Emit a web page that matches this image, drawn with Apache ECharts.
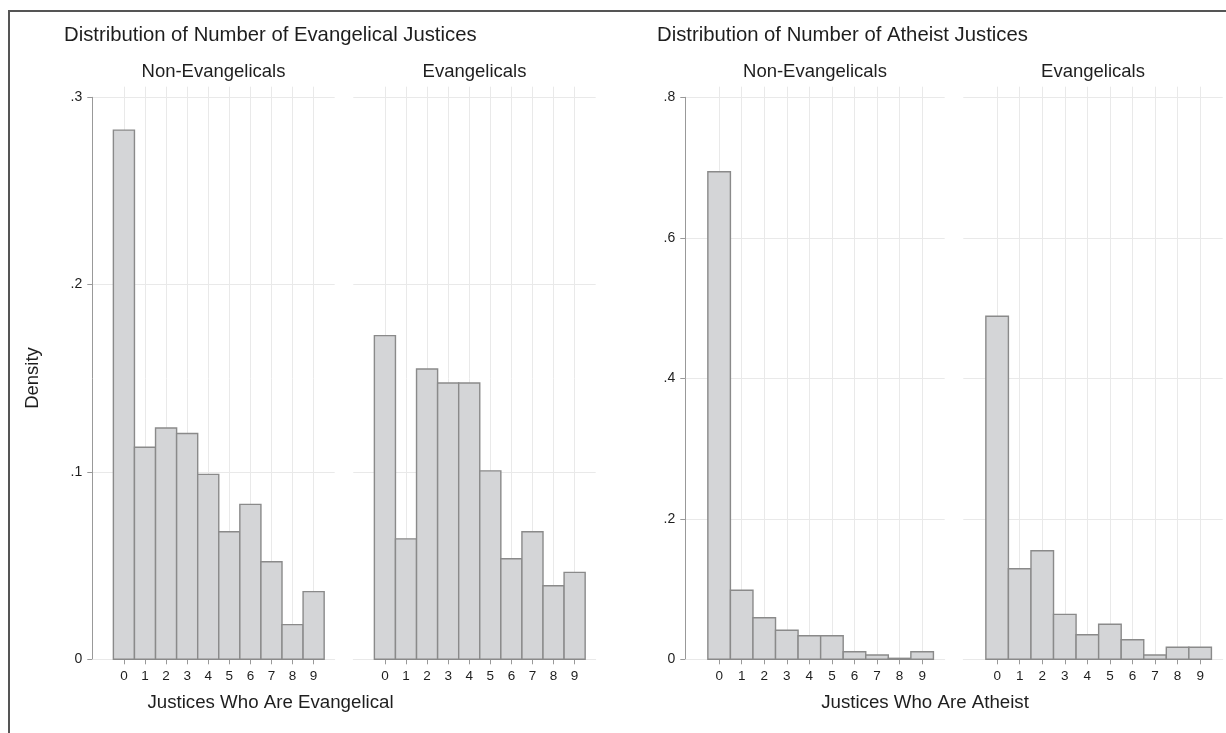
<!DOCTYPE html>
<html>
<head>
<meta charset="utf-8">
<script src="https://cdn.jsdelivr.net/npm/echarts@6/dist/echarts.min.js"></script>
<style>
html,body{margin:0;padding:0;background:#fff;}
#chart{width:1226px;height:733px;}
</style>
</head>
<body>
<div id="chart"></div>
<script>
// ---- data ----
const bins = [0, 1, 2, 3, 4, 5, 6, 7, 8, 9];
const xTickLabels = ['0', '1', '2', '3', '4', '5', '6', '7', '8', '9'];
const evangelicalJustices_NonEvangelicals = [0.2825, 0.1132, 0.1235, 0.1205, 0.0987, 0.0681, 0.0827, 0.0521, 0.0185, 0.0361];
const evangelicalJustices_Evangelicals = [0.1728, 0.0643, 0.1550, 0.1475, 0.1475, 0.1006, 0.0537, 0.0681, 0.0393, 0.0464];
const atheistJustices_NonEvangelicals = [0.6940, 0.0982, 0.0592, 0.0413, 0.0336, 0.0336, 0.0108, 0.0061, 0.0014, 0.0108];
const atheistJustices_Evangelicals = [0.4883, 0.1290, 0.1546, 0.0640, 0.0350, 0.0498, 0.0279, 0.0061, 0.0171, 0.0171];
const yTicksEvangelical = [0, 0.1, 0.2, 0.3];
const yTickLabelsEvangelical = ['0', '.1', '.2', '.3'];
const yTicksAtheist = [0, 0.2, 0.4, 0.6, 0.8];
const yTickLabelsAtheist = ['0', '.2', '.4', '.6', '.8'];
const panelTitles = ['Non-Evangelicals', 'Evangelicals', 'Non-Evangelicals', 'Evangelicals'];
const graphTitles = ['Distribution of Number of Evangelical Justices', 'Distribution of Number of Atheist Justices'];
const xAxisTitles = ['Justices Who Are Evangelical', 'Justices Who Are Atheist'];
const yAxisTitle = 'Density';

// ---- layout ----
const FONT = '"Liberation Sans", Arial, Helvetica, sans-serif';
const TXT = '#1e1e1e';
const GRIDC = '#e9e9e9';
const AXC = '#999999';
const BOTTOM = 659.3, TOPV = 97.3, CAPTOP = 86.7;
const panels = [
  {left: 92.3, width: 242.4, data: evangelicalJustices_NonEvangelicals, ticks: yTicksEvangelical, labels: yTickLabelsEvangelical, showY: true},
  {left: 353.3, width: 242.4, data: evangelicalJustices_Evangelicals, ticks: yTicksEvangelical, labels: yTickLabelsEvangelical, showY: false},
  {left: 685.3, width: 259.4, data: atheistJustices_NonEvangelicals, ticks: yTicksAtheist, labels: yTickLabelsAtheist, showY: true},
  {left: 963.3, width: 259.4, data: atheistJustices_Evangelicals, ticks: yTicksAtheist, labels: yTickLabelsAtheist, showY: false}
];
const XMIN = -1.5, XMAX = 10;

const grid = [], xAxis = [], yAxis = [], series = [];
panels.forEach((p, i) => {
  grid.push({left: p.left, top: TOPV, width: p.width, height: BOTTOM - TOPV, containLabel: false});
  const ymax = p.ticks[p.ticks.length - 1];
  const step = p.ticks[1] - p.ticks[0];
  xAxis.push({
    type: 'value', gridIndex: i, min: XMIN, max: XMAX,
    axisLine: {show: true, onZero: false, lineStyle: {color: GRIDC, width: 1}},
    axisTick: {show: true, customValues: bins, length: 5, lineStyle: {color: AXC, width: 1}},
    axisLabel: {show: true, customValues: bins, margin: 10, color: TXT, fontSize: 13.5, fontFamily: FONT,
      formatter: v => xTickLabels[bins.indexOf(Math.round(v))]},
    splitLine: {show: true, lineStyle: {color: GRIDC, width: 1}}
  });
  yAxis.push({
    type: 'value', gridIndex: i, min: 0, max: ymax, interval: step,
    axisLine: {show: p.showY, onZero: false, lineStyle: {color: AXC, width: 1}},
    axisTick: {show: p.showY, length: 5, lineStyle: {color: AXC, width: 1}},
    axisLabel: {show: p.showY, margin: 10, color: TXT, fontSize: 14, fontFamily: FONT,
      formatter: v => { let k = -1; p.ticks.forEach((t, j) => { if (Math.abs(t - v) < 1e-9) k = j; }); return k >= 0 ? p.labels[k] : ''; }},
    splitLine: {show: true, lineStyle: {color: GRIDC, width: 1}}
  });
  series.push({
    type: 'custom', xAxisIndex: i, yAxisIndex: i,
    data: bins.map((b, j) => [b, p.data[j]]),
    encode: {x: 0, y: 1},
    renderItem: (params, api) => {
      const x = api.value(0), y = api.value(1);
      const a = api.coord([x - 0.5, y]);
      const b = api.coord([x + 0.5, 0]);
      return {type: 'rect',
        shape: {x: a[0], y: a[1], width: b[0] - a[0], height: b[1] - a[1]},
        style: {fill: '#d4d5d7', stroke: '#8a8a8a', lineWidth: 1.4}};
    },
    silent: true, animation: false
  });
});
// cap grids: plot region above the top tick where vertical grid lines continue
panels.forEach((p, i) => {
  const gi = panels.length + i;
  grid.push({left: p.left, top: CAPTOP, width: p.width, height: TOPV - CAPTOP});
  xAxis.push({type: 'value', gridIndex: gi, min: XMIN, max: XMAX,
    axisLine: {show: false}, axisTick: {show: false, customValues: bins}, axisLabel: {show: false, customValues: bins},
    splitLine: {show: true, lineStyle: {color: GRIDC, width: 1}}});
  yAxis.push({type: 'value', gridIndex: gi, min: 0, max: 1, show: false});
});

const graphic = [];
graphic.push({type: 'line', shape: {x1: 9, y1: 11, x2: 9, y2: 733}, style: {stroke: '#555', lineWidth: 2}});
graphic.push({type: 'line', shape: {x1: 8, y1: 11, x2: 1226, y2: 11}, style: {stroke: '#555', lineWidth: 2}});
const txt = (text, x, y, size, align, rot) => ({
  type: 'text', x: x, y: y, rotation: rot || 0,
  style: {text: text, fill: TXT, font: size + 'px ' + FONT, align: align, verticalAlign: 'middle'}
});
graphic.push(txt(graphTitles[0], 64, 35, 20.3, 'left'));
graphic.push(txt(graphTitles[1], 657, 35, 20.3, 'left'));
panels.forEach((p, i) => graphic.push(txt(panelTitles[i], p.left + p.width / 2, 72, 18.5, 'center')));
graphic.push(txt(xAxisTitles[0], 270.5, 703, 18.7, 'center'));
graphic.push(txt(xAxisTitles[1], 925, 703, 18.7, 'center'));
graphic.push(txt(yAxisTitle, 33, 378, 18.5, 'center', Math.PI / 2));

const chart = echarts.init(document.getElementById('chart'), null, {renderer: 'canvas'});
chart.setOption({
  backgroundColor: '#ffffff',
  animation: false,
  grid: grid, xAxis: xAxis, yAxis: yAxis, series: series,
  graphic: graphic
});
</script>
</body>
</html>
